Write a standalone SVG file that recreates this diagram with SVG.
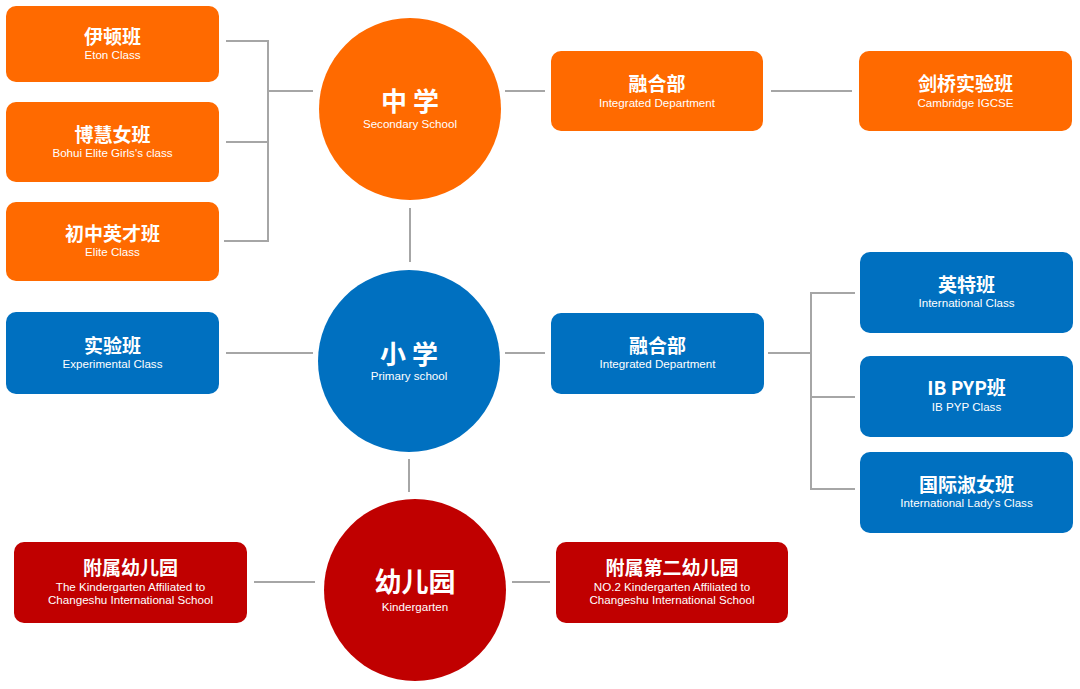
<svg xmlns="http://www.w3.org/2000/svg" width="1080" height="689" viewBox="0 0 1080 689">
<style>
.bg{fill:#ffffff}
.or{fill:#ff6a00}
.bl{fill:#0070c0}
.rd{fill:#c00000}
.ln{stroke:#a6a6a6;stroke-width:2;fill:none}
.zh{font-family:"Noto Sans CJK SC","Liberation Sans",sans-serif;font-weight:700;font-size:19px;fill:#ffffff;text-anchor:middle}
.zc{font-family:"Noto Sans CJK SC","Liberation Sans",sans-serif;font-weight:700;font-size:26px;fill:#ffffff;text-anchor:middle}
.en{font-family:"Liberation Sans",Arial,sans-serif;font-size:11.6px;fill:#ffffff;text-anchor:middle}
</style>
<rect class="bg" x="0" y="0" width="1080" height="689"/>
<g id="connectors">
<path class="ln" d="M226 41H268V241H224M226 142H268M268 91H313"/>
<path class="ln" d="M410 208V262"/>
<path class="ln" d="M409 459V492"/>
<path class="ln" d="M505 91H545"/>
<path class="ln" d="M771 91H852"/>
<path class="ln" d="M226 353H313"/>
<path class="ln" d="M505 353H545"/>
<path class="ln" d="M768 353H811M855 293H811V489H855M811 397H855"/>
<path class="ln" d="M254 582H315"/>
<path class="ln" d="M512 582H550"/>
</g>
<g id="eton"><rect class="or" x="6" y="6" width="213" height="76" rx="10"/><text class="zh" x="112.5" y="44">伊顿班</text><text class="en" x="112.5" y="59">Eton Class</text></g>
<g id="bohui"><rect class="or" x="6" y="102" width="213" height="80" rx="10"/><text class="zh" x="112.5" y="142">博慧女班</text><text class="en" x="112.5" y="157">Bohui Elite Girls's class</text></g>
<g id="elite"><rect class="or" x="6" y="202" width="213" height="79" rx="10"/><text class="zh" x="112.5" y="241">初中英才班</text><text class="en" x="112.5" y="256">Elite Class</text></g>
<g id="secondary"><circle class="or" cx="410" cy="109" r="91"/><text class="zc" x="410" y="111">中 学</text><text class="en" x="410" y="128">Secondary School</text></g>
<g id="integrated-sec"><rect class="or" x="551" y="51" width="212" height="80" rx="10"/><text class="zh" x="657" y="91">融合部</text><text class="en" x="657" y="107">Integrated Department</text></g>
<g id="cambridge"><rect class="or" x="859" y="51" width="213" height="80" rx="10"/><text class="zh" x="965.5" y="91">剑桥实验班</text><text class="en" x="965.5" y="107">Cambridge IGCSE</text></g>
<g id="experimental"><rect class="bl" x="6" y="312" width="213" height="82" rx="10"/><text class="zh" x="112.5" y="353">实验班</text><text class="en" x="112.5" y="368">Experimental Class</text></g>
<g id="primary"><circle class="bl" cx="409" cy="361" r="91"/><text class="zc" x="409" y="364">小 学</text><text class="en" x="409" y="380">Primary school</text></g>
<g id="integrated-pri"><rect class="bl" x="551" y="313" width="213" height="81" rx="10"/><text class="zh" x="657.5" y="353">融合部</text><text class="en" x="657.5" y="368">Integrated Department</text></g>
<g id="international"><rect class="bl" x="860" y="252" width="213" height="81" rx="10"/><text class="zh" x="966.5" y="292">英特班</text><text class="en" x="966.5" y="307">International Class</text></g>
<g id="ibpyp"><rect class="bl" x="860" y="356" width="213" height="81" rx="10"/><text class="zh" x="966.5" y="395">IB PYP班</text><text class="en" x="966.5" y="411">IB PYP Class</text></g>
<g id="lady"><rect class="bl" x="860" y="452" width="213" height="81" rx="10"/><text class="zh" x="966.5" y="492">国际淑女班</text><text class="en" x="966.5" y="507">International Lady's Class</text></g>
<g id="kindergarten"><circle class="rd" cx="415" cy="590" r="91"/><text class="zc" x="415" y="592" style="font-size:27px">幼儿园</text><text class="en" x="415" y="611">Kindergarten</text></g>
<g id="kg1"><rect class="rd" x="14" y="542" width="233" height="81" rx="10"/><text class="zh" x="130.5" y="575">附属幼儿园</text><text class="en" x="130.5" y="591">The Kindergarten Affiliated to</text><text class="en" x="130.5" y="604">Changeshu International School</text></g>
<g id="kg2"><rect class="rd" x="556" y="542" width="232" height="81" rx="10"/><text class="zh" x="672" y="575">附属第二幼儿园</text><text class="en" x="672" y="591">NO.2 Kindergarten Affiliated to</text><text class="en" x="672" y="604">Changeshu International School</text></g>
</svg>
